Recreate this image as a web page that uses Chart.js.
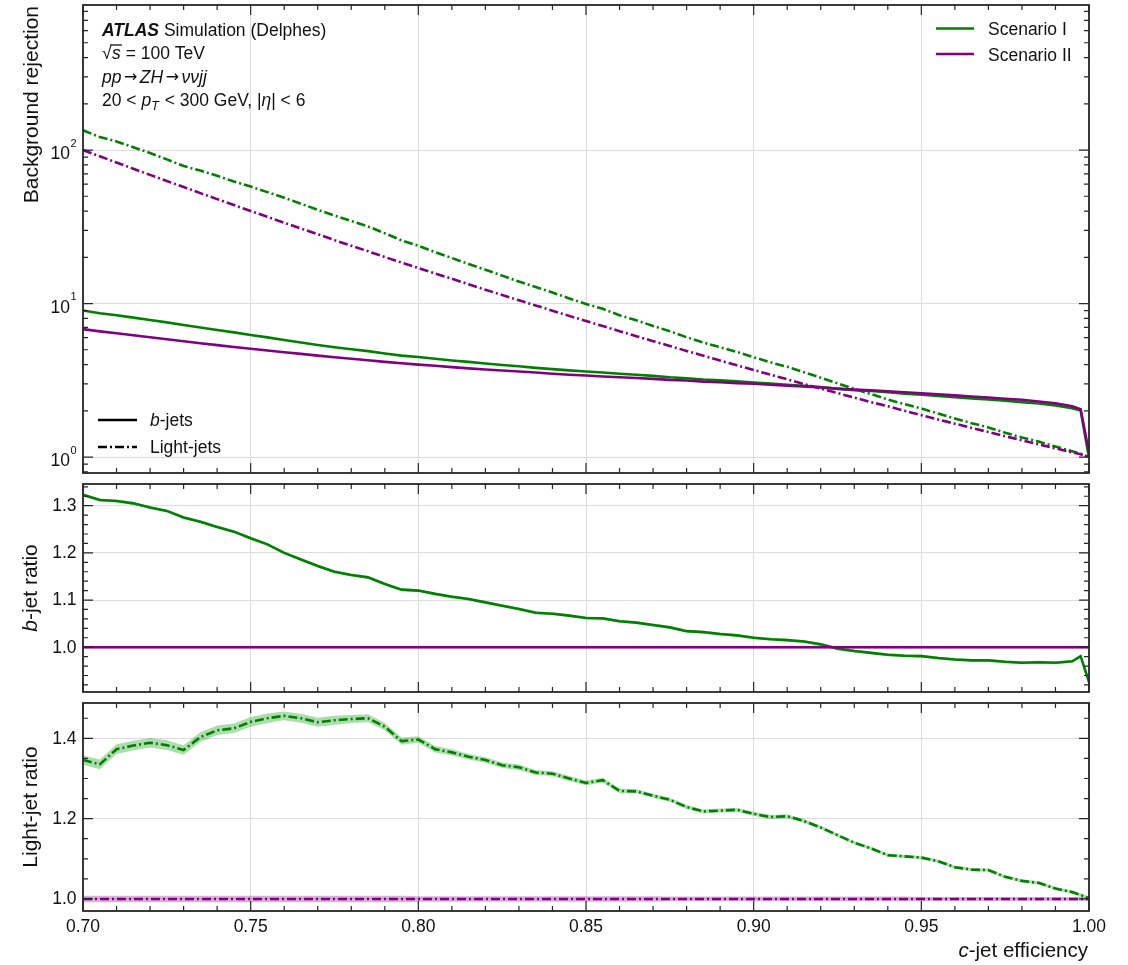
<!DOCTYPE html>
<html>
<head>
<meta charset="utf-8">
<script src="https://cdn.jsdelivr.net/npm/chart.js@4.4.0/dist/chart.umd.min.js"></script>
<style>
    html, body { margin: 0; padding: 0; background: #fff; }
    #wrap { position: relative; width: 1128px; height: 965px; }
    #wrap canvas { position: absolute; left: 0; }
</style>
</head>
<body>
<div id="wrap">
    <canvas id="rejChart" width="1128" height="479" style="top:0px"></canvas>
    <canvas id="bRatioChart" width="1128" height="219" style="top:479px"></canvas>
    <canvas id="lightRatioChart" width="1128" height="267" style="top:698px"></canvas>
</div>
<script>
// c-jet efficiency working points (shared by all panels)
const effValues = [
    0.700, 0.705, 0.710, 0.715, 0.720, 0.725, 0.730, 0.735, 0.740, 0.745,
    0.750, 0.755, 0.760, 0.765, 0.770, 0.775, 0.780, 0.785, 0.790, 0.795,
    0.800, 0.805, 0.810, 0.815, 0.820, 0.825, 0.830, 0.835, 0.840, 0.845,
    0.850, 0.855, 0.860, 0.865, 0.870, 0.875, 0.880, 0.885, 0.890, 0.895,
    0.900, 0.905, 0.910, 0.915, 0.920, 0.925, 0.930, 0.935, 0.940, 0.945,
    0.950, 0.955, 0.960, 0.965, 0.970, 0.975, 0.980, 0.985, 0.990, 0.995,
    0.9975, 1.000
];

// b-jet rejection
const bRejScenarioI = [
    9.01, 8.65, 8.38, 8.10, 7.81, 7.54, 7.24, 6.98, 6.73, 6.49,
    6.24, 6.02, 5.78, 5.57, 5.37, 5.19, 5.04, 4.90, 4.73, 4.58,
    4.48, 4.37, 4.26, 4.17, 4.07, 3.98, 3.90, 3.81, 3.74, 3.67,
    3.61, 3.55, 3.49, 3.44, 3.38, 3.31, 3.26, 3.20, 3.16, 3.11,
    3.06, 3.01, 2.96, 2.91, 2.86, 2.78, 2.73, 2.69, 2.64, 2.59,
    2.55, 2.50, 2.45, 2.41, 2.37, 2.33, 2.28, 2.23, 2.17, 2.08,
    2.01, 0.99
];
const bRejScenarioII = [
    6.81, 6.59, 6.40, 6.21, 6.03, 5.85, 5.68, 5.51, 5.36, 5.21,
    5.07, 4.94, 4.82, 4.70, 4.58, 4.47, 4.37, 4.27, 4.17, 4.08,
    4.00, 3.93, 3.85, 3.78, 3.72, 3.66, 3.61, 3.55, 3.49, 3.44,
    3.40, 3.35, 3.31, 3.27, 3.23, 3.18, 3.15, 3.10, 3.07, 3.03,
    3.00, 2.96, 2.92, 2.88, 2.84, 2.79, 2.75, 2.72, 2.68, 2.64,
    2.60, 2.56, 2.52, 2.48, 2.44, 2.40, 2.36, 2.30, 2.24, 2.14,
    2.05, 1.07
];

// light-jet rejection
const lightRejScenarioI = [
    134.6, 121.5, 113.8, 104.3, 95.7, 86.9, 78.7, 73.5, 68.0, 62.4,
    57.8, 53.2, 48.9, 44.7, 40.8, 37.4, 34.5, 31.8, 28.7, 25.8,
    23.8, 21.6, 19.8, 18.1, 16.6, 15.2, 13.9, 12.8, 11.8, 10.8,
    9.93, 9.24, 8.39, 7.77, 7.15, 6.60, 6.03, 5.57, 5.19, 4.84,
    4.47, 4.14, 3.87, 3.57, 3.29, 3.02, 2.78, 2.57, 2.37, 2.21,
    2.07, 1.92, 1.78, 1.66, 1.56, 1.44, 1.34, 1.26, 1.17, 1.09,
    1.05, 1.00
];
const lightRejScenarioII = [
    100.0, 91.0, 82.9, 75.5, 68.9, 62.8, 57.4, 52.4, 47.9, 43.8,
    40.1, 36.7, 33.6, 30.8, 28.3, 25.9, 23.8, 21.9, 20.1, 18.5,
    17.05, 15.7, 14.5, 13.35, 12.3, 11.37, 10.5, 9.71, 8.98, 8.31,
    7.70, 7.13, 6.61, 6.13, 5.69, 5.29, 4.91, 4.57, 4.25, 3.96,
    3.69, 3.44, 3.21, 2.99, 2.79, 2.61, 2.44, 2.28, 2.14, 2.00,
    1.875, 1.758, 1.649, 1.548, 1.455, 1.367, 1.285, 1.210, 1.139, 1.073,
    1.042, 1.00
];

// ratios to Scenario II
const bRatioScenarioI = [
    1.323, 1.312, 1.310, 1.305, 1.296, 1.289, 1.275, 1.266, 1.255, 1.245,
    1.231, 1.218, 1.200, 1.186, 1.172, 1.160, 1.153, 1.148, 1.134, 1.122,
    1.120, 1.113, 1.107, 1.102, 1.095, 1.088, 1.081, 1.073, 1.071, 1.067,
    1.062, 1.061, 1.055, 1.052, 1.047, 1.042, 1.034, 1.032, 1.028, 1.025,
    1.020, 1.017, 1.015, 1.012, 1.006, 0.997, 0.992, 0.988, 0.984, 0.982,
    0.981, 0.977, 0.974, 0.972, 0.972, 0.969, 0.967, 0.968, 0.967, 0.970,
    0.981, 0.926
];
const lightRatioScenarioI = [
    1.346, 1.335, 1.373, 1.382, 1.389, 1.383, 1.371, 1.403, 1.420, 1.425,
    1.441, 1.450, 1.456, 1.450, 1.440, 1.445, 1.448, 1.450, 1.429, 1.393,
    1.397, 1.373, 1.365, 1.354, 1.346, 1.333, 1.328, 1.315, 1.312, 1.300,
    1.289, 1.296, 1.269, 1.268, 1.257, 1.247, 1.229, 1.218, 1.220, 1.222,
    1.212, 1.204, 1.206, 1.194, 1.178, 1.159, 1.140, 1.126, 1.109, 1.106,
    1.103, 1.094, 1.079, 1.073, 1.072, 1.055, 1.045, 1.040, 1.026, 1.017,
    1.010, 1.002
];
const ratioScenarioII = [
    1, 1, 1, 1, 1, 1, 1, 1, 1, 1,
    1, 1, 1, 1, 1, 1, 1, 1, 1, 1,
    1, 1, 1, 1, 1, 1, 1, 1, 1, 1,
    1, 1, 1, 1, 1, 1, 1, 1, 1, 1,
    1, 1, 1, 1, 1, 1, 1, 1, 1, 1,
    1, 1, 1, 1, 1, 1, 1, 1, 1, 1,
    1, 1
];

// statistical uncertainty on the ratios (half width)
const lightRatioErrI = [
    0.012, 0.012, 0.012, 0.012, 0.012, 0.012, 0.012, 0.012, 0.012, 0.012,
    0.012, 0.012, 0.011, 0.011, 0.011, 0.011, 0.010, 0.010, 0.009, 0.009,
    0.008, 0.008, 0.008, 0.007, 0.007, 0.007, 0.007, 0.006, 0.006, 0.006,
    0.006, 0.006, 0.006, 0.005, 0.005, 0.005, 0.005, 0.005, 0.005, 0.005,
    0.005, 0.005, 0.005, 0.005, 0.004, 0.004, 0.004, 0.004, 0.004, 0.004,
    0.004, 0.004, 0.004, 0.004, 0.004, 0.004, 0.004, 0.004, 0.004, 0.004,
    0.004, 0.004
];
const lightRatioErrII = [
    0.008, 0.008, 0.008, 0.008, 0.008, 0.008, 0.008, 0.008, 0.008, 0.008,
    0.008, 0.008, 0.008, 0.008, 0.008, 0.008, 0.008, 0.008, 0.008, 0.008,
    0.007, 0.007, 0.007, 0.007, 0.007, 0.007, 0.007, 0.007, 0.007, 0.007,
    0.007, 0.007, 0.007, 0.007, 0.007, 0.006, 0.006, 0.006, 0.006, 0.006,
    0.006, 0.006, 0.006, 0.006, 0.006, 0.006, 0.006, 0.006, 0.006, 0.006,
    0.005, 0.005, 0.005, 0.005, 0.005, 0.005, 0.005, 0.005, 0.005, 0.005,
    0.005, 0.005
];
const bRatioErrI = 0.003;
const bRatioErrII = 0.003;

// axis ticks
const xMajorTicks = [0.70, 0.75, 0.80, 0.85, 0.90, 0.95, 1.00];
const rejMajorTicks = [1, 10, 100];
const bRatioMajorTicks = [1.0, 1.1, 1.2, 1.3];
const lightRatioMajorTicks = [1.0, 1.2, 1.4];

const FONT = '"Liberation Sans", Arial, Helvetica, sans-serif';
const SYMBOL_FONT = '"DejaVu Sans", sans-serif';
const GREEN = "#008000";
const PURPLE = "#800080";
const GREEN_BAND = "rgba(0, 150, 0, 0.32)";
const PURPLE_BAND = "rgba(128, 0, 128, 0.3)";
const FRAME = "#262626";
const GRID = "#dcdcdc";
const TEXT = "#111";
const DASHDOT = [9, 3, 2, 3];
const LINE_W = 2.6;
const LABEL_SIZE = 17.5;
const TITLE_SIZE = 21;

Chart.defaults.font.family = FONT;
Chart.defaults.font.size = LABEL_SIZE;
Chart.defaults.color = TEXT;

// minor ticks (axis decoration only)
const xMinorTicks = [];
for (let i = 71; i < 100; i++) {
    if (i % 5 !== 0) xMinorTicks.push(i / 100);
}
const rejMinorTicks = [0.8, 0.9];
[1, 10, 100].forEach((dec) => {
    for (let m = 2; m <= 9; m++) rejMinorTicks.push(m * dec);
});
const bRatioMinorTicks = [];
for (let k = 46; k <= 67; k++) {
    if (k % 5 !== 0) bRatioMinorTicks.push(k * 0.02);
}
const lightRatioMinorTicks = [];
for (let k = 21; k <= 29; k++) {
    if (k % 4 !== 0) lightRatioMinorTicks.push(k * 0.05);
}

function toPoints(ys) {
    return effValues.map((x, i) => ({ x: x, y: ys[i] }));
}

function shiftedPoints(ys, errs, sign) {
    return effValues.map((x, i) => {
        const e = Array.isArray(errs) ? errs[i] : errs;
        return { x: x, y: ys[i] + sign * e };
    });
}

function lineSet(label, ys, color, dashed, order) {
    return {
        label: label,
        data: toPoints(ys),
        borderColor: color,
        borderWidth: LINE_W,
        borderDash: dashed ? DASHDOT : [],
        pointRadius: 0,
        fill: false,
        tension: 0,
        order: order,
    };
}

function bandSets(ys, errs, color) {
    return [
        {
            data: shiftedPoints(ys, errs, 1),
            borderColor: "rgba(0,0,0,0)",
            borderWidth: 0,
            backgroundColor: color,
            pointRadius: 0,
            fill: "+1",
            order: 10,
        },
        {
            data: shiftedPoints(ys, errs, -1),
            borderColor: "rgba(0,0,0,0)",
            borderWidth: 0,
            pointRadius: 0,
            fill: false,
            order: 10,
        },
    ];
}

// draw a row of text pieces with mixed styles
function runFont(r, size) {
    const s = r.size || size;
    let style = "";
    if (r.st === "i") style = "italic ";
    if (r.st === "bi") style = "italic bold ";
    return style + s + "px " + (r.fam || FONT);
}

function drawRuns(ctx, runs, x, y, size, align) {
    let total = 0;
    runs.forEach((r) => {
        ctx.font = runFont(r, size);
        r.w = ctx.measureText(r.t).width;
        total += r.w + (r.gap || 0);
    });
    let cx = x;
    if (align === "right") cx = x - total;
    if (align === "center") cx = x - total / 2;
    ctx.textAlign = "left";
    ctx.textBaseline = "alphabetic";
    runs.forEach((r) => {
        ctx.font = runFont(r, size);
        ctx.fillText(r.t, cx, y + (r.dy || 0));
        if (r.over) {
            ctx.save();
            ctx.strokeStyle = ctx.fillStyle;
            ctx.lineWidth = 1.3;
            ctx.beginPath();
            ctx.moveTo(cx - 2, y - size * 0.80);
            ctx.lineTo(cx + r.w + 1, y - size * 0.80);
            ctx.stroke();
            ctx.restore();
        }
        cx += r.w + (r.gap || 0);
    });
}

function drawYTitle(ctx, runs, x, y, align) {
    ctx.save();
    ctx.fillStyle = TEXT;
    ctx.translate(x, y);
    ctx.rotate(-Math.PI / 2);
    drawRuns(ctx, runs, 0, 0, TITLE_SIZE, align);
    ctx.restore();
}

function panelDecor(opts) {
    return {
        id: "panelDecor",
        afterDraw(chart) {
            const ctx = chart.ctx;
            const a = chart.chartArea;
            const xs = chart.scales.x;
            const ys = chart.scales.y;
            ctx.save();
            ctx.strokeStyle = FRAME;
            ctx.lineWidth = 1.2;
            ctx.beginPath();
            const vTick = (v, len) => {
                const px = xs.getPixelForValue(v);
                ctx.moveTo(px, a.bottom);
                ctx.lineTo(px, a.bottom - len);
                ctx.moveTo(px, a.top);
                ctx.lineTo(px, a.top + len);
            };
            const hTick = (v, len) => {
                if (v < ys.min || v > ys.max) return;
                const py = ys.getPixelForValue(v);
                ctx.moveTo(a.left, py);
                ctx.lineTo(a.left + len, py);
                ctx.moveTo(a.right, py);
                ctx.lineTo(a.right - len, py);
            };
            xMajorTicks.forEach((v) => vTick(v, 10));
            xMinorTicks.forEach((v) => vTick(v, 5));
            opts.yMajor.forEach((v) => hTick(v, 10));
            opts.yMinor.forEach((v) => hTick(v, 5));
            ctx.stroke();
            ctx.lineWidth = 1.8;
            ctx.strokeRect(a.left, a.top, a.right - a.left, a.bottom - a.top);
            ctx.fillStyle = TEXT;
            if (opts.decimals) {
                // plain y tick labels
                ctx.font = LABEL_SIZE + "px " + FONT;
                ctx.textAlign = "right";
                ctx.textBaseline = "middle";
                opts.yMajor.forEach((v) => {
                    ctx.fillText(v.toFixed(opts.decimals), 76.5, ys.getPixelForValue(v) + 0.5);
                });
            }
            if (opts.extra) opts.extra(chart, ctx);
            ctx.restore();
        },
    };
}

function makeOptions(yScale, geom, showXLabels) {
    return {
        responsive: false,
        animation: false,
        devicePixelRatio: 1,
        events: [],
        layout: {
            padding: { top: geom.top, bottom: geom.bottom, left: 0, right: 39 },
        },
        plugins: {
            legend: { display: false },
            tooltip: { enabled: false },
        },
        scales: {
            x: {
                type: "linear",
                min: 0.70,
                max: 1.00,
                afterBuildTicks: (s) => {
                    s.ticks = xMajorTicks.map((v) => ({ value: v }));
                },
                afterFit: (s) => {
                    s.height = geom.xHeight;
                },
                grid: { color: GRID, lineWidth: 1, drawTicks: false },
                border: { display: false },
                ticks: {
                    display: showXLabels,
                    autoSkip: false,
                    maxRotation: 0,
                    padding: 6,
                    callback: (v) => Number(v).toFixed(2),
                },
            },
            y: yScale,
        },
    };
}

function yAxis(type, min, max, majors) {
    return {
        type: type,
        min: min,
        max: max,
        afterBuildTicks: (s) => {
            s.ticks = majors.map((v) => ({ value: v }));
        },
        afterFit: (s) => {
            s.width = 83;
        },
        grid: { color: GRID, lineWidth: 1, drawTicks: false },
        border: { display: false },
        ticks: { display: false },
    };
}

// ---- top panel: background rejection ----
function drawRejExtras(chart, ctx) {
    const ys = chart.scales.y;
    // 10^n tick labels
    rejMajorTicks.forEach((v) => {
        const py = ys.getPixelForValue(v);
        const exp = String(Math.round(Math.log10(v)));
        ctx.font = "11px " + FONT;
        const ew = ctx.measureText(exp).width;
        ctx.textAlign = "right";
        ctx.textBaseline = "alphabetic";
        ctx.fillText(exp, 76.5, py - 3.5);
        ctx.font = LABEL_SIZE + "px " + FONT;
        ctx.fillText("10", 76.5 - ew - 0.5, py + 9);
    });

    drawYTitle(ctx, [{ t: "Background rejection" }], 38, 6, "right");

    // annotation block
    drawRuns(ctx, [{ t: "ATLAS", st: "bi" }, { t: " Simulation (Delphes)" }], 102, 35.5, LABEL_SIZE, "left");
    drawRuns(ctx, [
        { t: "\u221A", gap: 0.5 },
        { t: "s", st: "i", over: true },
        { t: " = 100 TeV" },
    ], 102, 59, LABEL_SIZE, "left");
    drawRuns(ctx, [
        { t: "pp", st: "i", gap: 2.5 },
        { t: "\u2192", size: 16, fam: SYMBOL_FONT, dy: -0.5, gap: 2.5 },
        { t: "ZH", st: "i", gap: 2.5 },
        { t: "\u2192", size: 16, fam: SYMBOL_FONT, dy: -0.5, gap: 2.5 },
        { t: "\u03BD\u03BDjj", st: "i" },
    ], 102, 82.5, LABEL_SIZE, "left");
    drawRuns(ctx, [
        { t: "20 < " },
        { t: "p", st: "i" },
        { t: "T", st: "i", size: 12.5, dy: 4, gap: 1 },
        { t: " < 300 GeV, |" },
        { t: "\u03B7", st: "i" },
        { t: "| < 6" },
    ], 102, 106, LABEL_SIZE, "left");

    // scenario legend (top right)
    ctx.lineWidth = LINE_W;
    ctx.setLineDash([]);
    ctx.strokeStyle = GREEN;
    ctx.beginPath();
    ctx.moveTo(936, 28.5);
    ctx.lineTo(974, 28.5);
    ctx.stroke();
    ctx.strokeStyle = PURPLE;
    ctx.beginPath();
    ctx.moveTo(936, 54);
    ctx.lineTo(974, 54);
    ctx.stroke();
    drawRuns(ctx, [{ t: "Scenario I" }], 988, 35, LABEL_SIZE, "left");
    drawRuns(ctx, [{ t: "Scenario II" }], 988, 60.5, LABEL_SIZE, "left");

    // flavour legend (bottom left)
    ctx.strokeStyle = "#000";
    ctx.beginPath();
    ctx.moveTo(98, 420);
    ctx.lineTo(137, 420);
    ctx.stroke();
    ctx.setLineDash(DASHDOT);
    ctx.beginPath();
    ctx.moveTo(98, 447);
    ctx.lineTo(137, 447);
    ctx.stroke();
    ctx.setLineDash([]);
    drawRuns(ctx, [{ t: "b", st: "i" }, { t: "-jets" }], 150, 426, LABEL_SIZE, "left");
    drawRuns(ctx, [{ t: "Light-jets" }], 150, 453, LABEL_SIZE, "left");
}

new Chart(document.getElementById("rejChart"), {
    type: "line",
    data: {
        datasets: [
            lineSet("Scenario I b-jets", bRejScenarioI, GREEN, false, 4),
            lineSet("Scenario I light-jets", lightRejScenarioI, GREEN, true, 3),
            lineSet("Scenario II b-jets", bRejScenarioII, PURPLE, false, 2),
            lineSet("Scenario II light-jets", lightRejScenarioII, PURPLE, true, 1),
        ],
    },
    options: makeOptions(yAxis("logarithmic", 0.787, 881, rejMajorTicks), { top: 5, bottom: 6, xHeight: 0 }, false),
    plugins: [panelDecor({ yMajor: rejMajorTicks, yMinor: rejMinorTicks, extra: drawRejExtras })],
});

// ---- middle panel: b-jet ratio ----
new Chart(document.getElementById("bRatioChart"), {
    type: "line",
    data: {
        datasets: [
            ...bandSets(bRatioScenarioI, bRatioErrI, GREEN_BAND),
            ...bandSets(ratioScenarioII, bRatioErrII, PURPLE_BAND),
            lineSet("Scenario I", bRatioScenarioI, GREEN, false, 2),
            lineSet("Scenario II", ratioScenarioII, PURPLE, false, 1),
        ],
    },
    options: makeOptions(yAxis("linear", 0.905, 1.346, bRatioMajorTicks), { top: 5, bottom: 6, xHeight: 0 }, false),
    plugins: [panelDecor({
        yMajor: bRatioMajorTicks,
        yMinor: bRatioMinorTicks,
        decimals: 1,
        extra: (chart, ctx) => {
            drawYTitle(ctx, [{ t: "b", st: "i" }, { t: "-jet ratio" }], 37, 109, "center");
        },
    })],
});

// ---- bottom panel: light-jet ratio ----
new Chart(document.getElementById("lightRatioChart"), {
    type: "line",
    data: {
        datasets: [
            ...bandSets(lightRatioScenarioI, lightRatioErrI, GREEN_BAND),
            ...bandSets(ratioScenarioII, lightRatioErrII, PURPLE_BAND),
            lineSet("Scenario I", lightRatioScenarioI, GREEN, true, 2),
            lineSet("Scenario II", ratioScenarioII, PURPLE, true, 1),
        ],
    },
    options: makeOptions(yAxis("linear", 0.970, 1.488, lightRatioMajorTicks), { top: 5, bottom: 0, xHeight: 54 }, true),
    plugins: [panelDecor({
        yMajor: lightRatioMajorTicks,
        yMinor: lightRatioMinorTicks,
        decimals: 1,
        extra: (chart, ctx) => {
            drawYTitle(ctx, [{ t: "Light-jet ratio" }], 37, 109, "center");
            drawRuns(ctx, [{ t: "c", st: "i" }, { t: "-jet efficiency" }], 1088, 259, 20.5, "right");
        },
    })],
});
</script>
</body>
</html>
